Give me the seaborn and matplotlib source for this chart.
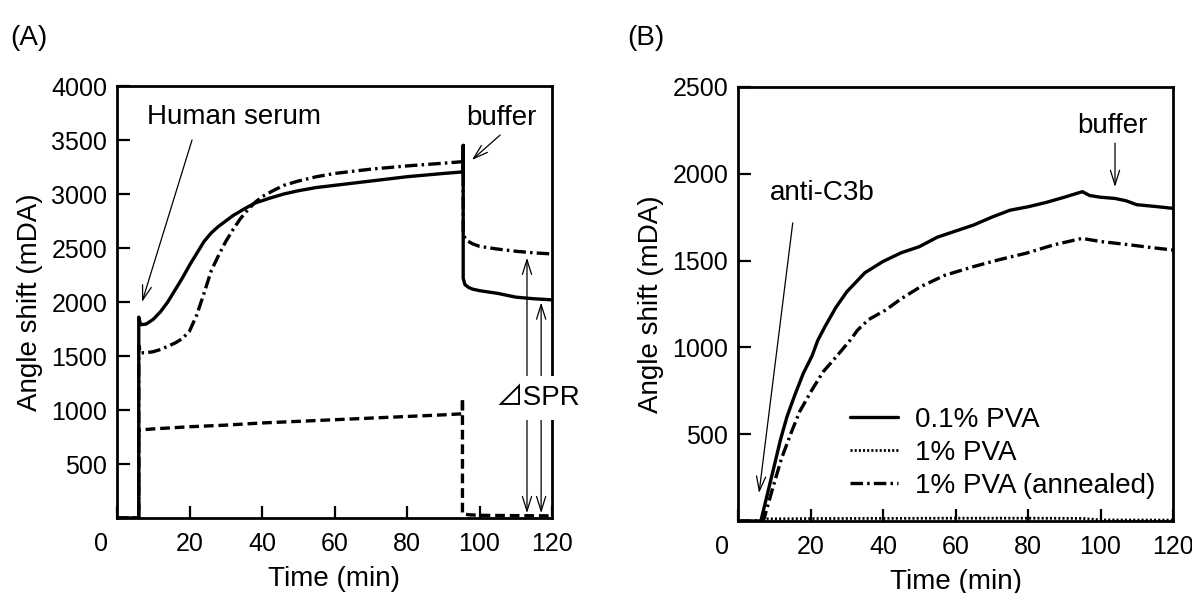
import numpy as np
import pandas as pd
import matplotlib
matplotlib.use("Agg")
import matplotlib.pyplot as plt
from matplotlib.transforms import ScaledTranslation
import seaborn as sns

sns.set_style("ticks")
plt.rcParams["font.family"] = ["Liberation Sans", "Noto Sans CJK JP", "DejaVu Sans"]
plt.rcParams["lines.scale_dashes"] = False
plt.rcParams["text.color"] = "black"
plt.rcParams["axes.labelcolor"] = "black"

# ---- Panel A: human serum adsorption ----
tA_solid = [0, 6, 6, 6.5, 8, 10, 12, 14, 16, 18, 20, 22, 24, 26, 28, 30, 32, 35, 38, 42, 46,
            50, 55, 60, 70, 80, 90, 95.5, 95.5, 95.5, 96, 97, 98, 100, 105, 110, 115, 120]
vA_solid = [0, 0, 1860, 1790, 1795, 1840, 1910, 2000, 2110, 2220, 2340, 2450, 2560, 2640, 2700,
            2750, 2800, 2860, 2915, 2960, 3000, 3030, 3060, 3080, 3120, 3160, 3190, 3205, 3450,
            2220, 2160, 2135, 2120, 2105, 2080, 2045, 2030, 2020]

tA_pva = [0, 6, 6, 10, 20, 30, 40, 50, 60, 70, 80, 90, 95.3, 95.3, 95.3, 97, 100, 110, 120]
vA_pva = [0, 0, 815, 825, 845, 860, 880, 895, 910, 925, 940, 955, 965, 1110, 40, 30, 25, 22, 20]

tA_ann = [0, 6, 6, 6.5, 8, 10, 12, 14, 16, 18, 20, 22, 24, 26, 28, 30, 32, 34, 36, 38, 40, 43,
          46, 50, 55, 60, 70, 80, 90, 95.5, 95.5, 96.5, 98, 100, 105, 110, 115, 120]
vA_ann = [0, 0, 1600, 1530, 1530, 1540, 1560, 1590, 1620, 1660, 1730, 1880, 2080, 2290, 2430,
          2560, 2670, 2770, 2850, 2920, 2975, 3030, 3080, 3120, 3160, 3190, 3230, 3260, 3285,
          3300, 2620, 2570, 2540, 2515, 2490, 2470, 2455, 2445]

# ---- Panel B: anti-C3b binding ----
tB_solid = [0, 6.3, 8, 10, 11.7, 13.5, 15.5, 18, 20.4, 22, 24, 27, 30, 35, 40, 45, 50, 55, 60,
            65, 70, 75, 80, 85, 90, 95, 97, 100, 104, 107, 110, 115, 120]
vB_solid = [0, 0, 146, 318, 467, 600, 716, 850, 950, 1040, 1120, 1230, 1320, 1430, 1495, 1545,
            1580, 1635, 1670, 1705, 1750, 1790, 1810, 1835, 1865, 1897, 1875, 1865, 1858, 1845,
            1822, 1812, 1801]

tB_pva = [0, 7, 8, 20, 40, 60, 80, 95, 100, 120]
vB_pva = [0, 0, 12, 14, 15, 16, 16, 15, 6, 5]

tB_ann = [0, 7, 9.7, 12, 14.6, 17, 20.4, 23.5, 27.1, 31, 33, 36, 40.7, 45, 50.4, 57, 64.9, 72,
          79.4, 87, 94.9, 100, 108.4, 114, 120]
vB_ann = [0, 0, 198, 360, 505, 630, 755, 860, 946, 1043, 1100, 1160, 1215, 1280, 1350, 1415,
          1465, 1505, 1542, 1590, 1628, 1610, 1590, 1575, 1561]

labels = ["0.1% PVA", "1% PVA", "1% PVA (annealed)"]
x_ticks = [0, 20, 40, 60, 80, 100, 120]
yA_ticks = [500, 1000, 1500, 2000, 2500, 3000, 3500, 4000]
yB_ticks = [500, 1000, 1500, 2000, 2500]

ls_solid = "-"
ls_dashA = (0, (7, 3.5))
ls_dot = (0, (1.5, 1.5))
ls_dashdot = (0, (9, 3, 1.8, 3))

FS_TICK = 18
FS = 20
LW = 2.4

fig = plt.figure(figsize=(11.92, 5.93), dpi=100)
axA = fig.add_axes([117 / 1192, 75 / 593, 435 / 1192, 432 / 593])
axB = fig.add_axes([738 / 1192, 72 / 593, 435 / 1192, 434 / 593])

def draw(ax, t, v, ls, label, lw=LW):
    sns.lineplot(x=t, y=v, ax=ax, color="k", lw=lw, linestyle=ls, estimator=None,
                 sort=False, label=label, legend=False)

draw(axA, tA_solid, vA_solid, ls_solid, labels[0])
draw(axA, tA_pva, vA_pva, ls_dashA, labels[1])
draw(axA, tA_ann, vA_ann, ls_dashdot, labels[2])

draw(axB, tB_pva, vB_pva, ls_dot, labels[1], lw=2.0)
draw(axB, tB_ann, vB_ann, ls_dashdot, labels[2])
draw(axB, tB_solid, vB_solid, ls_solid, labels[0])

for ax, yt, ymax in ((axA, yA_ticks, 4000), (axB, yB_ticks, 2500)):
    ax.set_xlim(0, 120)
    ax.set_ylim(0, ymax)
    ax.set_xticks(x_ticks)
    ax.set_yticks(yt)
    ax.tick_params(direction="in", length=9, width=1.6, labelsize=FS_TICK, colors="k")
    ax.tick_params(axis="x", pad=10)
    ax.tick_params(axis="y", pad=7)
    for s in ax.spines.values():
        s.set_visible(True)
        s.set_linewidth(2.0)
        s.set_color("k")
    ax.set_xlabel("Time (min)", fontsize=FS, labelpad=7, color="k")
    ax.set_ylabel("Angle shift (mDA)", fontsize=FS, labelpad=6, color="k")
    # shift the origin label left of the corner
    lab0 = ax.xaxis.get_major_ticks()[0].label1
    lab0.set_transform(lab0.get_transform() + ScaledTranslation(-0.16, 0, fig.dpi_scale_trans))

arrow = dict(arrowstyle="->,head_length=0.7,head_width=0.22", lw=0.9, color="k",
             shrinkA=0, shrinkB=0, mutation_scale=15)
darrow = dict(arrowstyle="<->,head_length=0.7,head_width=0.22", lw=0.9, color="k",
              shrinkA=0, shrinkB=0, mutation_scale=15)

# Panel A annotations
axA.text(8.3, 3713, "Human serum", fontsize=FS, ha="left", va="center", color="k")
axA.annotate("", xy=(6.9, 2000), xytext=(20.7, 3500), arrowprops=arrow)
axA.text(96.3, 3704, "buffer", fontsize=FS, ha="left", va="center", color="k")
axA.annotate("", xy=(97.9, 3315), xytext=(105.7, 3546), arrowprops=arrow)
axA.annotate("", xy=(113.1, 2410), xytext=(113.1, 45), arrowprops=darrow, zorder=2)
axA.annotate("", xy=(117.0, 1995), xytext=(117.0, 45), arrowprops=darrow, zorder=2)
axA.text(116.0, 1111, "⊿SPR", fontsize=FS, ha="center", va="center", zorder=6,
         clip_on=False, color="k",
         bbox=dict(boxstyle="square,pad=0.33", fc="white", ec="none"))

# Panel B annotations
axB.text(23.2, 1890, "anti-C3b", fontsize=FS, ha="center", va="center", color="k")
axB.annotate("", xy=(5.8, 161), xytext=(15.1, 1717), arrowprops=arrow)
axB.text(103.2, 2276, "buffer", fontsize=FS, ha="center", va="center", color="k")
axB.annotate("", xy=(104.0, 1924), xytext=(104.0, 2177), arrowprops=arrow)

hs, ls_ = axB.get_legend_handles_labels()
order = [labels.index(l) for l in ls_]
pairs = sorted(zip(order, hs, ls_))
leg = axB.legend([p[1] for p in pairs], [p[2] for p in pairs], loc="upper left",
                 bbox_to_anchor=(0.257, 0.263), frameon=False, fontsize=FS, handlelength=1.75,
                 handletextpad=0.6, labelspacing=0.25, borderpad=0, borderaxespad=0)
for txt in leg.get_texts():
    txt.set_color("k")

fig.text(10 / 1192, 1 - 38 / 593, "(A)", fontsize=FS, ha="left", va="center", color="k")
fig.text(627 / 1192, 1 - 38 / 593, "(B)", fontsize=FS, ha="left", va="center", color="k")

fig.savefig("out.png", dpi=100, facecolor="white")
